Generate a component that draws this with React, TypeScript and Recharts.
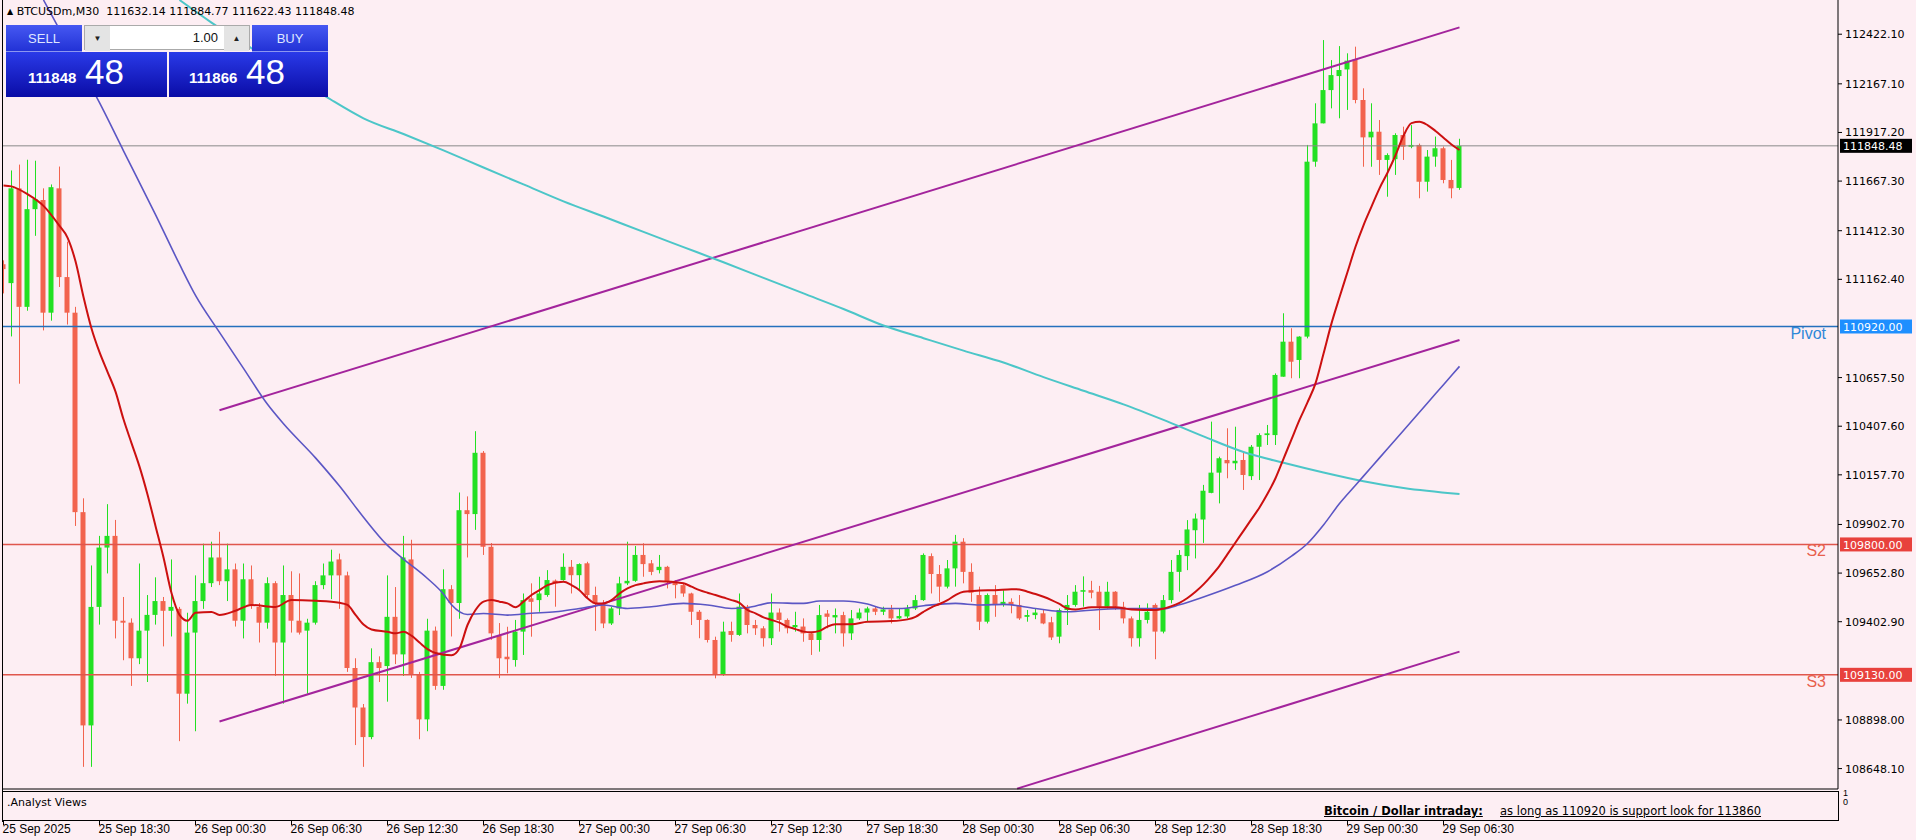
import React from "react";
import { ComposedChart, Bar, Line, XAxis, YAxis, ReferenceLine } from "recharts";

// BTCUSDm M30, 25 Sep 12:30 .. 29 Sep 07:30 (one bar per 30 min)
const TIME_LABELS = [
  "25 Sep 2025", "25 Sep 18:30", "26 Sep 00:30", "26 Sep 06:30", "26 Sep 12:30", "26 Sep 18:30",
  "27 Sep 00:30", "27 Sep 06:30", "27 Sep 12:30", "27 Sep 18:30", "28 Sep 00:30", "28 Sep 06:30",
  "28 Sep 12:30", "28 Sep 18:30", "29 Sep 00:30", "29 Sep 06:30",
];
const TIME_TICKS = [0, 12, 24, 36, 48, 60, 72, 84, 96, 108, 120, 132, 144, 156, 168, 180];

const Y_TICKS = [
  112422.1, 112167.1, 111917.2, 111667.3, 111412.3, 111162.4, 110657.5, 110407.6,
  110157.7, 109902.7, 109652.8, 109402.9, 108898.0, 108648.1,
];

const OPEN = [
  111240, 111143, 111630, 111021, 111523, 111570, 110991, 111630, 111174, 110991,
  109966, 108870, 109479, 109784, 109844, 109408, 109398, 109215, 109357, 109438,
  109509, 109459, 109469, 109033, 109347, 109509, 109601, 109733, 109611, 109672,
  109408, 109621, 109479, 109398, 109601, 109296, 109540, 109408, 109357, 109398,
  109591, 109641, 109723, 109641, 109165, 108962, 108810, 109195, 109175, 109428,
  109235, 109723, 109134, 108901, 109357, 109073, 109570, 109499, 109976, 109956,
  110271, 109788, 109330, 109223, 109206, 109352, 109523, 109514, 109540, 109614,
  109617, 109685, 109642, 109703, 109540, 109497, 109394, 109471, 109600, 109613,
  109746, 109703, 109668, 109685, 109608, 109591, 109548, 109454, 109412, 109309,
  109129, 109355, 109335, 109480, 109386, 109369, 109318, 109450, 109412, 109375,
  109378, 109343, 109309, 109445, 109425, 109437, 109343, 109420, 109450, 109471,
  109454, 109466, 109420, 109430, 109471, 109514, 109740, 109648, 109583, 109677,
  109814, 109659, 109540, 109403, 109540, 109494, 109505, 109489, 109428, 109437,
  109446, 109400, 109326, 109463, 109489, 109557, 109565, 109557, 109480, 109557,
  109480, 109420, 109318, 109412, 109489, 109352, 109514, 109659, 109740, 109873,
  109928, 110065, 110169, 110234, 110217, 110234, 110151, 110302, 110362, 110362,
  110662, 110842, 110748, 110868, 111767, 111964, 112135, 112207, 112241, 112293,
  112084, 111892, 111921, 111776, 111780, 111904, 111844, 111853, 111664, 111793,
  111836, 111673, 111632.14,
];
const HIGH = [
  111260, 111722, 111752, 111777, 111772, 111630, 111650, 111742, 111356, 111021,
  110037, 109692, 109844, 110007, 109926, 109530, 109420, 109702, 109540, 109631,
  109530, 109723, 109479, 109449, 109641, 109804, 109814, 109865, 109804, 109702,
  109702, 109692, 109499, 109631, 109611, 109692, 109662, 109651, 109418, 109611,
  109702, 109773, 109753, 109660, 109215, 108980, 109266, 109225, 109641, 109581,
  109844, 109824, 109145, 109418, 109378, 109672, 109591, 110067, 110047, 110382,
  110280, 109807, 109396, 109377, 109412, 109548, 109600, 109634, 109668, 109620,
  109754, 109720, 109703, 109711, 109583, 109514, 109480, 109634, 109814, 109792,
  109806, 109720, 109746, 109690, 109617, 109600, 109552, 109463, 109415, 109326,
  109403, 109403, 109548, 109489, 109412, 109380, 109548, 109471, 109420, 109454,
  109420, 109350, 109489, 109463, 109471, 109454, 109463, 109471, 109480, 109480,
  109480, 109489, 109471, 109489, 109540, 109754, 109754, 109694, 109720, 109849,
  109832, 109703, 109583, 109548, 109591, 109565, 109523, 109540, 109463, 109471,
  109463, 109428, 109471, 109540, 109591, 109636, 109613, 109587, 109608, 109560,
  109505, 109430, 109489, 109497, 109497, 109540, 109720, 109771, 109925, 109959,
  110106, 110431, 110251, 110397, 110405, 110277, 110311, 110371, 110414, 110679,
  110988, 110911, 110870, 111853, 112067, 112392, 112289, 112361, 112324, 112358,
  112144, 112067, 111981, 111810, 111913, 111947, 111955, 111860, 111827, 111896,
  111845, 111776, 111884.77,
];
const LOW = [
  111090, 110869, 110626, 111001, 111386, 110900, 110950, 111123, 110930, 109895,
  108657, 108657, 109388, 109651, 109317, 109205, 109073, 109185, 109093, 109388,
  109276, 109327, 108789, 108982, 108840, 109469, 109581, 109591, 109509, 109378,
  109317, 109469, 109296, 109367, 109124, 108982, 109347, 109337, 109033, 109388,
  109570, 109519, 109469, 109145, 108769, 108657, 108799, 109093, 108992, 109185,
  109124, 109114, 108799, 108840, 109053, 109053, 109327, 109418, 109733, 109875,
  109746, 109310, 109113, 109138, 109172, 109232, 109326, 109454, 109531, 109480,
  109614, 109548, 109565, 109523, 109356, 109370, 109386, 109437, 109591, 109608,
  109634, 109642, 109651, 109574, 109523, 109531, 109386, 109318, 109296, 109112,
  109125, 109300, 109330, 109343, 109335, 109275, 109283, 109352, 109343, 109352,
  109300, 109232, 109249, 109369, 109343, 109275, 109309, 109412, 109403, 109437,
  109437, 109394, 109416, 109420, 109463, 109510, 109548, 109505, 109574, 109583,
  109600, 109505, 109360, 109394, 109428, 109480, 109446, 109412, 109403, 109416,
  109390, 109309, 109292, 109386, 109480, 109480, 109523, 109360, 109471, 109463,
  109394, 109275, 109275, 109394, 109210, 109343, 109497, 109557, 109668, 109728,
  109808, 110063, 110011, 110140, 110183, 110080, 110131, 110131, 110311, 110311,
  110662, 110654, 110654, 110859, 111741, 111964, 112041, 111990, 112033, 112067,
  111741, 111741, 111699, 111587, 111699, 111776, 111836, 111579, 111613, 111741,
  111656, 111579, 111622.43,
];
const CLOSE = [
  111215, 111630, 111021, 111523, 111575, 110991, 111636, 111174, 110991, 109966,
  108870, 109479, 109784, 109844, 109408, 109398, 109215, 109357, 109438, 109509,
  109459, 109479, 109033, 109347, 109509, 109601, 109733, 109611, 109672, 109408,
  109621, 109489, 109398, 109601, 109296, 109540, 109408, 109347, 109398, 109591,
  109641, 109712, 109641, 109165, 108962, 108810, 109195, 109165, 109428, 109235,
  109733, 109134, 108901, 109357, 109073, 109570, 109499, 109976, 109956, 110271,
  109788, 109343, 109215, 109210, 109352, 109514, 109505, 109548, 109617, 109600,
  109685, 109642, 109699, 109540, 109497, 109394, 109471, 109600, 109613, 109746,
  109699, 109659, 109685, 109608, 109591, 109548, 109454, 109412, 109309, 109129,
  109352, 109335, 109480, 109386, 109369, 109318, 109450, 109412, 109369, 109386,
  109343, 109309, 109437, 109428, 109437, 109343, 109420, 109450, 109471, 109454,
  109466, 109420, 109432, 109471, 109514, 109746, 109648, 109583, 109677, 109814,
  109659, 109552, 109403, 109540, 109489, 109505, 109489, 109420, 109437, 109450,
  109394, 109322, 109463, 109489, 109557, 109565, 109552, 109480, 109557, 109480,
  109420, 109318, 109412, 109454, 109352, 109514, 109659, 109746, 109877, 109933,
  110076, 110169, 110243, 110217, 110230, 110157, 110302, 110362, 110371, 110671,
  110842, 110739, 110868, 111767, 111964, 112135, 112212, 112238, 112286, 112084,
  111892, 111921, 111776, 111801, 111904, 111844, 111853, 111664, 111793, 111836,
  111673, 111630, 111848.48,
];

// moving averages: [bar index, price]
const RED_MA = [
  [0, 111645], [1, 111640], [3, 111600], [5, 111540], [7, 111437], [8, 111377], [9, 111255],
  [10, 111072], [11, 110910], [12, 110788], [13, 110687], [14, 110585], [15, 110443], [16, 110321],
  [17, 110200], [18, 110057], [19, 109895], [20, 109733], [21, 109550], [22, 109438], [23, 109408],
  [24, 109449], [26, 109453], [27, 109438], [29, 109459], [31, 109489], [34, 109479], [36, 109514],
  [39, 109510], [42, 109500], [43, 109489], [44, 109438], [45, 109388], [46, 109363], [48, 109351],
  [49, 109343], [50, 109351], [51, 109331], [52, 109296], [53, 109262], [54, 109242], [56, 109230],
  [57, 109266], [58, 109386], [59, 109463], [60, 109506], [61, 109514], [62, 109506], [63, 109497],
  [64, 109477], [65, 109506], [66, 109540], [67, 109565], [68, 109591], [70, 109608], [71, 109591],
  [72, 109565], [73, 109523], [74, 109497], [75, 109497], [76, 109514], [77, 109548], [78, 109574],
  [79, 109591], [80, 109600], [82, 109611], [85, 109600], [86, 109583], [87, 109565], [88, 109552],
  [89, 109540], [90, 109527], [91, 109514], [92, 109500], [93, 109463], [94, 109446], [95, 109425],
  [96, 109412], [97, 109398], [98, 109378], [99, 109365], [100, 109352], [101, 109349], [102, 109356],
  [103, 109378], [104, 109390], [106, 109390], [108, 109403], [111, 109406], [113, 109415],
  [114, 109428], [115, 109454], [116, 109477], [117, 109494], [118, 109514], [119, 109540],
  [120, 109557], [122, 109563], [124, 109565], [126, 109570], [127, 109569], [128, 109557],
  [129, 109545], [130, 109531], [131, 109514], [132, 109494], [133, 109471], [134, 109466],
  [136, 109477], [139, 109477], [141, 109466], [144, 109463], [145, 109470], [146, 109483],
  [147, 109500], [148, 109525], [149, 109557], [150, 109595], [151, 109640], [152, 109690],
  [153, 109750], [154, 109810], [155, 109870], [156, 109930], [157, 109990], [158, 110060],
  [159, 110140], [160, 110240], [161, 110340], [162, 110440], [163, 110530], [164, 110628],
  [165, 110780], [166, 110936], [167, 111070], [168, 111200], [169, 111330], [170, 111440],
  [171, 111536], [172, 111630], [173, 111710], [174, 111800], [175, 111900], [176, 111965],
  [177, 111972], [178, 111955], [179, 111925], [180, 111890], [181, 111855], [182, 111827],
];
const BLUE_MA = [
  [5, 112598], [8, 112370], [12, 112070], [15, 111823], [19, 111495], [22, 111240], [24, 111080],
  [27, 110890], [30, 110705], [33, 110520], [35, 110420], [39, 110245], [42, 110100], [45, 109940],
  [48, 109795], [50, 109725], [53, 109625], [55, 109545], [56, 109490], [58, 109440], [60, 109445],
  [63, 109437], [66, 109446], [69, 109454], [72, 109471], [75, 109489], [78, 109471], [81, 109480],
  [85, 109497], [88, 109489], [91, 109471], [93, 109475], [96, 109500], [100, 109497], [102, 109509],
  [105, 109509], [108, 109494], [110, 109471], [112, 109471], [115, 109485], [119, 109497],
  [122, 109489], [125, 109492], [129, 109471], [133, 109454], [137, 109466], [141, 109471],
  [145, 109470], [147, 109490], [150, 109530], [154, 109590], [158, 109660], [161, 109740],
  [163, 109805], [165, 109900], [167, 110010], [169, 110104], [171, 110198], [173, 110292],
  [175, 110386], [178, 110527], [180, 110621], [182, 110715],
];
const CYAN_MA = [
  [22, 112598], [26, 112482], [31, 112350], [36, 112217], [41, 112084], [45, 111990], [50, 111909],
  [55, 111825], [60, 111737], [65, 111650], [70, 111563], [75, 111485], [80, 111406], [85, 111328],
  [90, 111250], [95, 111170], [100, 111090], [105, 111010], [110, 110925], [115, 110860],
  [120, 110796], [125, 110735], [130, 110660], [135, 110590], [140, 110520], [145, 110440],
  [150, 110355], [155, 110275], [160, 110220], [165, 110170], [170, 110125], [175, 110090],
  [182, 110059],
];

// trend channel, [bar index, price] endpoints
const CH_UPPER = [[27, 110490], [182, 112457]];
const CH_MIDDLE = [[27, 108890], [182, 110851]];
const CH_LOWER = [[126.7, 108545], [182, 109249]];

const PIVOT = 110920;
const S2 = 109800;
const S3 = 109130;
const LAST = 111848.48;

const BG = "#fdeef3";
const FONT = '"Liberation Sans", Arial, sans-serif';
const MT_FONT = '"DejaVu Sans", Verdana, sans-serif';
const UP = "#22e022";
const DOWN = "#f2644e";

const redMap = new Map(RED_MA.map(([i, v]) => [i, v]));
const blueMap = new Map(BLUE_MA.map(([i, v]) => [i, v]));
const cyanMap = new Map(CYAN_MA.map(([i, v]) => [i, v]));

const data = OPEN.map((o, i) => ({
  i,
  o,
  h: HIGH[i],
  l: LOW[i],
  c: CLOSE[i],
  range: [LOW[i], HIGH[i]],
  red: redMap.get(i) ?? null,
  blue: blueMap.get(i) ?? null,
  cyan: cyanMap.get(i) ?? null,
}));

function Candle(props: any) {
  const { x, y, width, height, payload } = props;
  if (x == null || y == null) return null;
  const { o, h, l, c } = payload;
  const cx = Math.round(x + width / 2) + 0.5;
  const k = h - l > 0 ? height / (h - l) : 0;
  const yo = y + (h - o) * k;
  const yc = y + (h - c) * k;
  const col = c >= o ? UP : DOWN;
  return (
    <g>
      <line x1={cx} x2={cx} y1={y} y2={y + height} stroke={col} strokeWidth={1} />
      <rect x={cx - 3} y={Math.min(yo, yc)} width={5} height={Math.max(1, Math.abs(yc - yo))} fill={col} />
    </g>
  );
}

function levelLabel(text: string, fill: string, tag?: string, tagColor?: string) {
  return (props: any) => {
    const vb = props.viewBox || {};
    const right = (vb.x ?? 0) + (vb.width ?? 0);
    const y = vb.y ?? 0;
    return (
      <g>
        <rect x={right + 2} y={y - 7} width={72} height={14} fill={fill} />
        <text x={right + 5} y={y + 4.5} fill="#fff" fontSize={11} fontFamily={MT_FONT}>{text}</text>
        {tag ? (
          <text x={right - 12} y={y + 12} textAnchor="end" fontSize={16} fill={tagColor} fontFamily={FONT}>{tag}</text>
        ) : null}
      </g>
    );
  };
}

const PriceTick = (p: any) => (
  <text x={p.x} y={p.y + 4} fontSize={11} fill="#000" fontFamily={MT_FONT}>
    {Number(p.payload.value).toFixed(2)}
  </text>
);

const TimeTick = (p: any) => {
  const idx = TIME_TICKS.indexOf(p.payload.value);
  return (
    <g>
      <line x1={p.x} x2={p.x} y1={821} y2={825} stroke="#000" />
      <text x={p.x - 1} y={833} fontSize={12} fill="#000" fontFamily={FONT}>{TIME_LABELS[idx]}</text>
    </g>
  );
};

const seg = (pts: number[][]) => pts.map(([x, y]) => ({ x, y }));

function TradePanel() {
  const btn: React.CSSProperties = {
    position: "absolute", top: 0, width: 76, height: 27, color: "#dfe6ff", fontSize: 13,
    textAlign: "center", lineHeight: "27px", background: "linear-gradient(#4658f2, #2232d6)",
    borderBottom: "1px solid #8c96f0", boxSizing: "border-box",
  };
  const priceBox: React.CSSProperties = {
    position: "absolute", top: 27, height: 45, background: "linear-gradient(#2a3ae8, #0a0ca6)",
    color: "#fff", boxSizing: "border-box",
  };
  const arrow: React.CSSProperties = {
    position: "absolute", top: 0, width: 25, height: 25, background: "#e4e4e4",
    fontSize: 8, textAlign: "center", lineHeight: "25px", color: "#222",
  };
  return (
    <div style={{ position: "absolute", left: 6, top: 25, width: 322, height: 72, fontFamily: FONT }}>
      <div style={{ ...btn, left: 0 }}>SELL</div>
      <div style={{ position: "absolute", left: 78, top: 0, width: 166, height: 25, background: "#fff", border: "1px solid #aaa", boxSizing: "border-box" }}>
        <div style={{ ...arrow, left: 0 }}>▼</div>
        <div style={{ position: "absolute", right: 31, top: 0, lineHeight: "24px", fontSize: 13, color: "#111" }}>1.00</div>
        <div style={{ ...arrow, right: 0 }}>▲</div>
      </div>
      <div style={{ ...btn, left: 246 }}>BUY</div>
      <div style={{ ...priceBox, left: 0, width: 161 }}>
        <span style={{ position: "absolute", left: 22, top: 17, fontSize: 15, fontWeight: "bold" }}>111848</span>
        <span style={{ position: "absolute", left: 79, top: 0, fontSize: 35 }}>48</span>
      </div>
      <div style={{ ...priceBox, left: 163, width: 159 }}>
        <span style={{ position: "absolute", left: 20, top: 17, fontSize: 15, fontWeight: "bold" }}>111866</span>
        <span style={{ position: "absolute", left: 77, top: 0, fontSize: 35 }}>48</span>
      </div>
    </div>
  );
}

export default function App() {
  return (
    <div style={{ position: "absolute", left: 0, top: 0, width: 1916, height: 840, background: BG, overflow: "hidden", fontFamily: FONT }}>
      <ComposedChart width={1916} height={840} data={data} margin={{ top: 0, right: 0, bottom: 0, left: 2 }}>
        <XAxis
          dataKey="i" type="number" domain={[-0.1875, 229.3125]} allowDataOverflow
          ticks={TIME_TICKS} interval={0} height={51} axisLine={{ stroke: "#000" }} tickLine={false} tick={TimeTick}
        />
        <YAxis
          orientation="right" type="number" domain={[108543.2, 112597.9]} allowDataOverflow
          ticks={Y_TICKS} interval={0} width={78} axisLine={{ stroke: "#000" }}
          tickLine={{ stroke: "#000" }} tickSize={4} tickMargin={3} tick={PriceTick}
        />
        <ReferenceLine y={LAST} stroke="#8a8a8a" strokeWidth={1} label={levelLabel("111848.48", "#000")} />
        <ReferenceLine y={PIVOT} stroke="#2470bd" strokeWidth={1.5} label={levelLabel("110920.00", "#1e8fff", "Pivot", "#2f88d8")} />
        <ReferenceLine y={S2} stroke="#e0564c" strokeWidth={1.5} label={levelLabel("109800.00", "#e8413c", "S2", "#e8604c")} />
        <ReferenceLine y={S3} stroke="#e0564c" strokeWidth={1.5} label={levelLabel("109130.00", "#e8413c", "S3", "#e8604c")} />
        <ReferenceLine segment={seg(CH_UPPER)} stroke="#a3249c" strokeWidth={2} ifOverflow="visible" />
        <ReferenceLine segment={seg(CH_MIDDLE)} stroke="#a3249c" strokeWidth={2} ifOverflow="visible" />
        <ReferenceLine segment={seg(CH_LOWER)} stroke="#a3249c" strokeWidth={2} ifOverflow="visible" />
        <Bar dataKey="range" barSize={5} shape={Candle} isAnimationActive={false} />
        <Line dataKey="cyan" type="monotone" stroke="#4cc6c8" strokeWidth={2} dot={false} connectNulls isAnimationActive={false} />
        <Line dataKey="blue" type="monotone" stroke="#5b56c4" strokeWidth={1.6} dot={false} connectNulls isAnimationActive={false} />
        <Line dataKey="red" type="monotone" stroke="#cc1010" strokeWidth={2} dot={false} connectNulls isAnimationActive={false} />
      </ComposedChart>

      {/* frame left edge */}
      <div style={{ position: "absolute", left: 2, top: 0, width: 1, height: 822, background: "#000" }} />

      {/* header + one-click trading panel */}
      <div style={{ position: "absolute", left: 7, top: 5, fontSize: 11, color: "#000", whiteSpace: "pre", fontFamily: MT_FONT }}>
        <span style={{ fontSize: 8, verticalAlign: "1px" }}>▲</span> BTCUSDm,M30  111632.14 111884.77 111622.43 111848.48
      </div>
      <TradePanel />

      {/* indicator subwindow */}
      <div style={{ position: "absolute", left: 2, top: 791, width: 1837, height: 30, border: "1px solid #000", boxSizing: "border-box", background: BG, fontFamily: MT_FONT }}>
        <div style={{ position: "absolute", left: 4, top: 4, fontSize: 11, color: "#000" }}>.Analyst Views</div>
        <div style={{ position: "absolute", left: 1321, top: 12, fontSize: 11.5, color: "#000", whiteSpace: "pre", textDecoration: "underline" }}>
          <b>Bitcoin / Dollar intraday:</b>
        </div>
        <div style={{ position: "absolute", left: 1497, top: 12, fontSize: 11.5, color: "#000", whiteSpace: "pre", textDecoration: "underline" }}>
          as long as 110920 is support look for 113860
        </div>
      </div>
      <div style={{ position: "absolute", left: 1843, top: 789, fontSize: 9, lineHeight: "9px", color: "#000" }}>1<br />0</div>
    </div>
  );
}
